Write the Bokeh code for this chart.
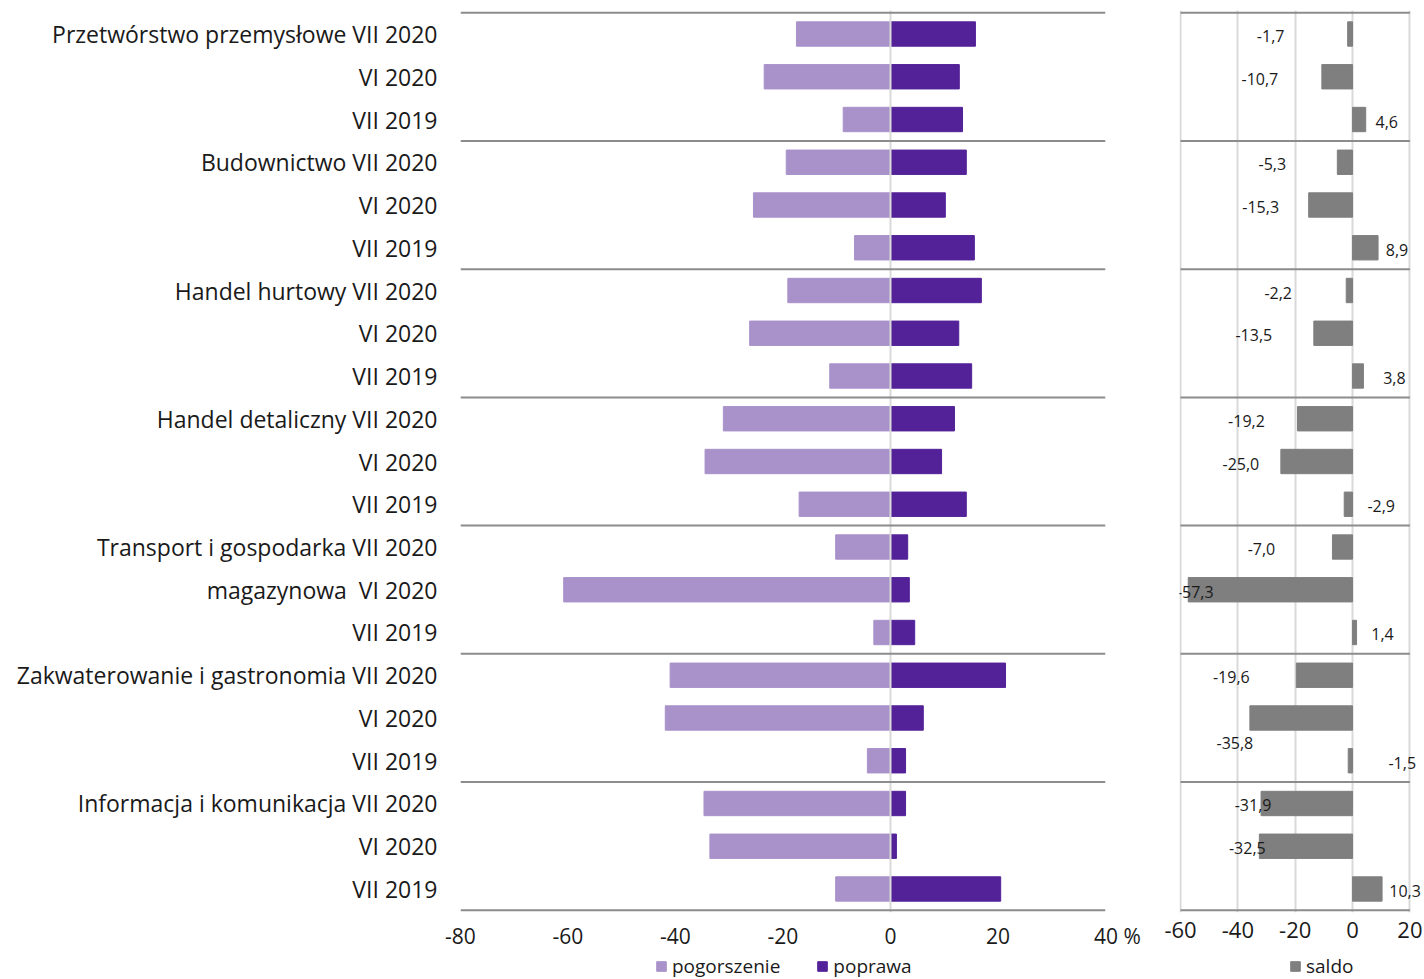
from bokeh.plotting import figure
from bokeh.models import (ColumnDataSource, FixedTicker, Legend, LegendItem,
                          LabelSet, Span, Range1d)
from bokeh.layouts import row, column
from bokeh.embed import file_html
from bokeh.resources import INLINE
from bokeh.core.properties import value

# ---------------- data ----------------
row_labels = [
    "Przetwórstwo przemysłowe VII 2020", "VI 2020", "VII 2019",
    "Budownictwo VII 2020", "VI 2020", "VII 2019",
    "Handel hurtowy VII 2020", "VI 2020", "VII 2019",
    "Handel detaliczny VII 2020", "VI 2020", "VII 2019",
    "Transport i gospodarka VII 2020", "magazynowa\u00a0\u00a0VI 2020", "VII 2019",
    "Zakwaterowanie i gastronomia VII 2020", "VI 2020", "VII 2019",
    "Informacja i komunikacja VII 2020", "VI 2020", "VII 2019",
]
pogorszenie = [17.5, 23.5, 8.8, 19.4, 25.5, 6.7, 19.1, 26.2, 11.3, 31.1, 34.5,
               17.0, 10.2, 60.8, 3.1, 41.0, 41.9, 4.3, 34.7, 33.6, 10.2]
poprawa = [15.8, 12.8, 13.4, 14.1, 10.2, 15.6, 16.9, 12.7, 15.1, 11.9, 9.5,
           14.1, 3.2, 3.5, 4.5, 21.4, 6.1, 2.8, 2.8, 1.1, 20.5]
saldo = [-1.7, -10.7, 4.6, -5.3, -15.3, 8.9, -2.2, -13.5, 3.8, -19.2, -25.0,
         -2.9, -7.0, -57.3, 1.4, -19.6, -35.8, -1.5, -31.9, -32.5, 10.3]
left_ticks = [-80, -60, -40, -20, 0, 20, 40]
left_tick_labels = ["-80", "-60", "-40", "-20", "0", "20", "\u2007\u200740 %"]
right_ticks = [-60, -40, -20, 0, 20]
right_tick_labels = ["-60", "-40", "-20", "0", "20"]
group_size = 3

# label placement (screen px offsets from the bar end)
saldo_label_dx = [-77, -62, 21, -65, -48, 19, -68, -60, 31, -51, -40, 37,
                  -71, 7, 26, -65, -15, 54, -8, -12, 23]
saldo_label_dy = [-2] * 16 + [-25] + [-2] * 4

# ---------------- styles ----------------
FONT = "Open Sans"
C_LIGHT = "#a992ca"
C_DARK = "#532298"
C_SALDO = "#7f7f7f"
C_SEP = "#8c8c8c"
C_GRID = "#d9d9d9"
C_TEXT = "#1a1a1a"

n = len(row_labels)
ys = [n - 0.5 - i for i in range(n)]
seps = list(range(0, n + 1, group_size))

src = ColumnDataSource(dict(
    y=ys,
    neg=[-v for v in pogorszenie],
    pop=poprawa,
    saldo=saldo,
    txt=[f"{v:.1f}".replace(".", ",") for v in saldo],
    dx=saldo_label_dx,
    dy=saldo_label_dy,
))

H = 952
LEG_H = 27
YR = (-0.05, n + 0.05)
TOP = 10
BOTTOM = 40
STANDOFF = 3

# ---------------- left panel ----------------
p = figure(width=1160, height=H, x_range=(-80, 40), y_range=YR,
           output_backend="svg", toolbar_location=None,
           min_border_left=460, min_border_right=55, min_border_top=TOP,
           min_border_bottom=BOTTOM)
p.outline_line_color = None
p.xgrid.visible = False
p.ygrid.visible = False

p.hbar(y="y", left="neg", right=0, height=0.57, source=src,
       fill_color=C_LIGHT, line_color=C_LIGHT)
p.hbar(y="y", left=0, right="pop", height=0.57, source=src,
       fill_color=C_DARK, line_color=C_DARK)

p.add_layout(Span(location=0, dimension="height", line_color=C_GRID, line_width=2))
for s in seps:
    p.add_layout(Span(location=s, dimension="width", line_color=C_SEP, line_width=2))

p.yaxis.ticker = FixedTicker(ticks=ys)
p.yaxis.major_label_overrides = {y: lab for y, lab in zip(ys, row_labels)}
p.yaxis.axis_line_color = None
p.yaxis.major_tick_line_color = None
p.yaxis.minor_tick_line_color = None
p.yaxis.major_label_standoff = 17
p.yaxis.major_label_text_font = FONT
p.yaxis.major_label_text_font_size = "23px"
p.yaxis.major_label_text_color = C_TEXT

p.xaxis.ticker = FixedTicker(ticks=left_ticks)
p.xaxis.major_label_overrides = dict(zip(left_ticks, left_tick_labels))
p.xaxis.axis_line_color = None
p.xaxis.major_tick_line_color = None
p.xaxis.minor_tick_line_color = None
p.xaxis.major_label_standoff = STANDOFF
p.xaxis.major_label_text_font = FONT
p.xaxis.major_label_text_font_size = "21px"
p.xaxis.major_label_text_color = C_TEXT

# ---------------- right panel ----------------
p2 = figure(width=264, height=H, x_range=(-60.35, 25.1), y_range=YR,
            output_backend="svg", toolbar_location=None,
            min_border_left=19, min_border_right=0, min_border_top=TOP,
            min_border_bottom=BOTTOM)
p2.outline_line_color = None
p2.yaxis.visible = False
p2.ygrid.visible = False
p2.xgrid.ticker = FixedTicker(ticks=right_ticks)
p2.xgrid.grid_line_color = C_GRID
p2.xgrid.grid_line_width = 2

p2.hbar(y="y", left=0, right="saldo", height=0.57, source=src,
        fill_color=C_SALDO, line_color=C_SALDO)
p2.segment(x0=right_ticks[0], x1=right_ticks[-1], y0=seps, y1=seps,
           line_color=C_SEP, line_width=2)

p2.add_layout(LabelSet(x="saldo", y="y", text="txt", x_offset="dx", y_offset="dy",
                       source=src, text_align="center", text_baseline="middle",
                       text_font=value(FONT), text_font_size=value("16px"),
                       text_color=C_TEXT))

p2.xaxis.ticker = FixedTicker(ticks=right_ticks)
p2.xaxis.major_label_overrides = dict(zip(right_ticks, right_tick_labels))
p2.xaxis.axis_line_color = None
p2.xaxis.major_tick_line_color = None
p2.xaxis.minor_tick_line_color = None
p2.xaxis.major_label_standoff = STANDOFF
p2.xaxis.major_label_text_font = FONT
p2.xaxis.major_label_text_font_size = "22px"
p2.xaxis.major_label_text_color = C_TEXT

# ---------------- legend strip ----------------
lf = figure(width=1424, height=LEG_H, x_range=Range1d(0, 1), y_range=Range1d(0, 1),
            output_backend="svg", toolbar_location=None,
            x_axis_location=None, y_axis_location=None,
            min_border_left=0, min_border_right=0, min_border_top=0,
            min_border_bottom=0)
lf.outline_line_color = None
lf.xgrid.visible = False
lf.ygrid.visible = False
# legend swatches only (kept outside the strip's visible range)
g_neg = lf.hbar(y=[5], left=[5], right=[6], height=0.5, fill_color=C_LIGHT, line_color=C_LIGHT)
g_pos = lf.hbar(y=[5], left=[5], right=[6], height=0.5, fill_color=C_DARK, line_color=C_DARK)
g_sal = lf.hbar(y=[5], left=[5], right=[6], height=0.5, fill_color=C_SALDO, line_color=C_SALDO)


def make_legend(items, loc):
    lg = Legend(items=items, orientation="horizontal", location=loc)
    lg.label_text_font = FONT
    lg.label_text_font_size = "19px"
    lg.label_text_color = C_TEXT
    lg.glyph_width = 12
    lg.glyph_height = 12
    lg.label_standoff = 5
    lg.spacing = 36
    lg.padding = 0
    lg.margin = 0
    lg.border_line_color = None
    lg.background_fill_alpha = 0
    return lg


lf.add_layout(make_legend([LegendItem(label="pogorszenie", renderers=[g_neg]),
                           LegendItem(label="poprawa", renderers=[g_pos])],
                          (655, 0)), "center")
lf.add_layout(make_legend([LegendItem(label="saldo", renderers=[g_sal])],
                          (1289, 0)), "center")

layout = column(row(p, p2), lf)
open("out.html", "w").write(file_html(layout, INLINE))
